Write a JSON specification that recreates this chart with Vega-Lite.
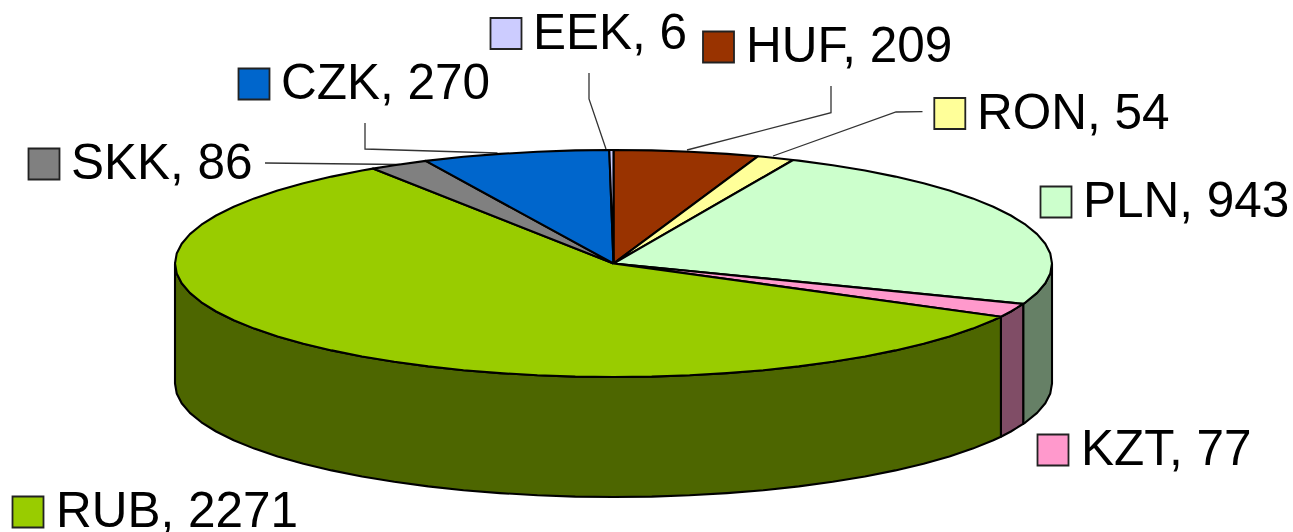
{"$schema":"https://vega.github.io/schema/vega-lite/v6.json","width":1293,"height":532,"padding":0,"autosize":"none","background":"white","view":{"stroke":null},
"datasets":{
"sides":[
{"slice":"PLN side","i":0,"x":1052,"y":263.5},{"slice":"PLN side","i":1,"x":1050.3,"y":273.4},{"slice":"PLN side","i":2,"x":1045.3,"y":283.2},{"slice":"PLN side","i":3,"x":1037.1,"y":292.9},{"slice":"PLN side","i":4,"x":1025.6,"y":302.3},{"slice":"PLN side","i":5,"x":1023.2,"y":303.9},{"slice":"PLN side","i":6,"x":1023.2,"y":423.9},{"slice":"PLN side","i":7,"x":1025.6,"y":422.3},{"slice":"PLN side","i":8,"x":1037.1,"y":412.9},{"slice":"PLN side","i":9,"x":1045.3,"y":403.2},{"slice":"PLN side","i":10,"x":1050.3,"y":393.4},{"slice":"PLN side","i":11,"x":1052,"y":383.5},{"slice":"PLN side","i":12,"x":1052,"y":263.5},
{"slice":"KZT side","i":0,"x":1023.2,"y":303.9},{"slice":"KZT side","i":1,"x":1010.9,"y":311.5},{"slice":"KZT side","i":2,"x":1000.9,"y":316.7},{"slice":"KZT side","i":3,"x":1000.9,"y":436.7},{"slice":"KZT side","i":4,"x":1010.9,"y":431.5},{"slice":"KZT side","i":5,"x":1023.2,"y":423.9},{"slice":"KZT side","i":6,"x":1023.2,"y":303.9},
{"slice":"RUB side","i":0,"x":1000.9,"y":316.7},{"slice":"RUB side","i":1,"x":993.3,"y":320.25},{"slice":"RUB side","i":2,"x":972.7,"y":328.6},{"slice":"RUB side","i":3,"x":949.4,"y":336.5},{"slice":"RUB side","i":4,"x":923.6,"y":343.8},{"slice":"RUB side","i":5,"x":895.4,"y":350.4},{"slice":"RUB side","i":6,"x":865,"y":356.5},{"slice":"RUB side","i":7,"x":832.75,"y":361.8},{"slice":"RUB side","i":8,"x":798.8,"y":366.4},{"slice":"RUB side","i":9,"x":763.5,"y":370.2},{"slice":"RUB side","i":10,"x":727,"y":373.1},{"slice":"RUB side","i":11,"x":689.6,"y":375.3},{"slice":"RUB side","i":12,"x":651.7,"y":376.6},{"slice":"RUB side","i":13,"x":613.5,"y":377},{"slice":"RUB side","i":14,"x":575.3,"y":376.6},{"slice":"RUB side","i":15,"x":537.4,"y":375.3},{"slice":"RUB side","i":16,"x":500,"y":373.1},{"slice":"RUB side","i":17,"x":463.5,"y":370.2},{"slice":"RUB side","i":18,"x":428.2,"y":366.4},{"slice":"RUB side","i":19,"x":394.25,"y":361.8},{"slice":"RUB side","i":20,"x":362,"y":356.5},{"slice":"RUB side","i":21,"x":331.6,"y":350.4},{"slice":"RUB side","i":22,"x":303.4,"y":343.8},{"slice":"RUB side","i":23,"x":277.6,"y":336.5},{"slice":"RUB side","i":24,"x":254.3,"y":328.6},{"slice":"RUB side","i":25,"x":233.7,"y":320.25},{"slice":"RUB side","i":26,"x":216.1,"y":311.5},{"slice":"RUB side","i":27,"x":201.4,"y":302.3},{"slice":"RUB side","i":28,"x":189.9,"y":292.9},{"slice":"RUB side","i":29,"x":181.7,"y":283.2},{"slice":"RUB side","i":30,"x":176.7,"y":273.4},{"slice":"RUB side","i":31,"x":175,"y":263.5},
{"slice":"RUB side","i":32,"x":175,"y":383.5},{"slice":"RUB side","i":33,"x":176.7,"y":393.4},{"slice":"RUB side","i":34,"x":181.7,"y":403.2},{"slice":"RUB side","i":35,"x":189.9,"y":412.9},{"slice":"RUB side","i":36,"x":201.4,"y":422.3},{"slice":"RUB side","i":37,"x":216.1,"y":431.5},{"slice":"RUB side","i":38,"x":233.7,"y":440.25},{"slice":"RUB side","i":39,"x":254.3,"y":448.6},{"slice":"RUB side","i":40,"x":277.6,"y":456.5},{"slice":"RUB side","i":41,"x":303.4,"y":463.8},{"slice":"RUB side","i":42,"x":331.6,"y":470.4},{"slice":"RUB side","i":43,"x":362,"y":476.5},{"slice":"RUB side","i":44,"x":394.25,"y":481.8},{"slice":"RUB side","i":45,"x":428.2,"y":486.4},{"slice":"RUB side","i":46,"x":463.5,"y":490.2},{"slice":"RUB side","i":47,"x":500,"y":493.1},{"slice":"RUB side","i":48,"x":537.4,"y":495.3},{"slice":"RUB side","i":49,"x":575.3,"y":496.6},{"slice":"RUB side","i":50,"x":613.5,"y":497},{"slice":"RUB side","i":51,"x":651.7,"y":496.6},{"slice":"RUB side","i":52,"x":689.6,"y":495.3},{"slice":"RUB side","i":53,"x":727,"y":493.1},{"slice":"RUB side","i":54,"x":763.5,"y":490.2},{"slice":"RUB side","i":55,"x":798.8,"y":486.4},{"slice":"RUB side","i":56,"x":832.75,"y":481.8},{"slice":"RUB side","i":57,"x":865,"y":476.5},{"slice":"RUB side","i":58,"x":895.4,"y":470.4},{"slice":"RUB side","i":59,"x":923.6,"y":463.8},{"slice":"RUB side","i":60,"x":949.4,"y":456.5},{"slice":"RUB side","i":61,"x":972.7,"y":448.6},{"slice":"RUB side","i":62,"x":993.3,"y":440.25},{"slice":"RUB side","i":63,"x":1000.9,"y":436.7},{"slice":"RUB side","i":64,"x":1000.9,"y":316.7}
],
"tops":[
{"slice":"HUF","i":0,"x":613.5,"y":263.5},{"slice":"HUF","i":1,"x":613.5,"y":150},{"slice":"HUF","i":2,"x":651.7,"y":150.4},{"slice":"HUF","i":3,"x":689.6,"y":151.7},{"slice":"HUF","i":4,"x":727,"y":153.9},{"slice":"HUF","i":5,"x":757.8,"y":156.3},{"slice":"HUF","i":6,"x":613.5,"y":263.5},
{"slice":"RON","i":0,"x":613.5,"y":263.5},{"slice":"RON","i":1,"x":757.8,"y":156.3},{"slice":"RON","i":2,"x":763.5,"y":156.8},{"slice":"RON","i":3,"x":793.1,"y":160},{"slice":"RON","i":4,"x":613.5,"y":263.5},
{"slice":"PLN","i":0,"x":613.5,"y":263.5},{"slice":"PLN","i":1,"x":793.1,"y":160},{"slice":"PLN","i":2,"x":798.8,"y":160.6},{"slice":"PLN","i":3,"x":832.75,"y":165.2},{"slice":"PLN","i":4,"x":865,"y":170.5},{"slice":"PLN","i":5,"x":895.4,"y":176.6},{"slice":"PLN","i":6,"x":923.6,"y":183.2},{"slice":"PLN","i":7,"x":949.4,"y":190.5},{"slice":"PLN","i":8,"x":972.7,"y":198.4},{"slice":"PLN","i":9,"x":993.3,"y":206.75},{"slice":"PLN","i":10,"x":1010.9,"y":215.5},{"slice":"PLN","i":11,"x":1025.6,"y":224.7},{"slice":"PLN","i":12,"x":1037.1,"y":234.1},{"slice":"PLN","i":13,"x":1045.3,"y":243.8},{"slice":"PLN","i":14,"x":1050.3,"y":253.6},{"slice":"PLN","i":15,"x":1052,"y":263.5},{"slice":"PLN","i":16,"x":1050.3,"y":273.4},{"slice":"PLN","i":17,"x":1045.3,"y":283.2},{"slice":"PLN","i":18,"x":1037.1,"y":292.9},{"slice":"PLN","i":19,"x":1025.6,"y":302.3},{"slice":"PLN","i":20,"x":1023.2,"y":303.9},{"slice":"PLN","i":21,"x":613.5,"y":263.5},
{"slice":"KZT","i":0,"x":613.5,"y":263.5},{"slice":"KZT","i":1,"x":1023.2,"y":303.9},{"slice":"KZT","i":2,"x":1010.9,"y":311.5},{"slice":"KZT","i":3,"x":1000.9,"y":316.7},{"slice":"KZT","i":4,"x":613.5,"y":263.5},
{"slice":"RUB","i":0,"x":613.5,"y":263.5},{"slice":"RUB","i":1,"x":1000.9,"y":316.7},{"slice":"RUB","i":2,"x":993.3,"y":320.25},{"slice":"RUB","i":3,"x":972.7,"y":328.6},{"slice":"RUB","i":4,"x":949.4,"y":336.5},{"slice":"RUB","i":5,"x":923.6,"y":343.8},{"slice":"RUB","i":6,"x":895.4,"y":350.4},{"slice":"RUB","i":7,"x":865,"y":356.5},{"slice":"RUB","i":8,"x":832.75,"y":361.8},{"slice":"RUB","i":9,"x":798.8,"y":366.4},{"slice":"RUB","i":10,"x":763.5,"y":370.2},{"slice":"RUB","i":11,"x":727,"y":373.1},{"slice":"RUB","i":12,"x":689.6,"y":375.3},{"slice":"RUB","i":13,"x":651.7,"y":376.6},{"slice":"RUB","i":14,"x":613.5,"y":377},{"slice":"RUB","i":15,"x":575.3,"y":376.6},{"slice":"RUB","i":16,"x":537.4,"y":375.3},{"slice":"RUB","i":17,"x":500,"y":373.1},{"slice":"RUB","i":18,"x":463.5,"y":370.2},{"slice":"RUB","i":19,"x":428.2,"y":366.4},{"slice":"RUB","i":20,"x":394.25,"y":361.8},{"slice":"RUB","i":21,"x":362,"y":356.5},{"slice":"RUB","i":22,"x":331.6,"y":350.4},{"slice":"RUB","i":23,"x":303.4,"y":343.8},{"slice":"RUB","i":24,"x":277.6,"y":336.5},{"slice":"RUB","i":25,"x":254.3,"y":328.6},{"slice":"RUB","i":26,"x":233.7,"y":320.25},{"slice":"RUB","i":27,"x":216.1,"y":311.5},{"slice":"RUB","i":28,"x":201.4,"y":302.3},{"slice":"RUB","i":29,"x":189.9,"y":292.9},{"slice":"RUB","i":30,"x":181.7,"y":283.2},{"slice":"RUB","i":31,"x":176.7,"y":273.4},{"slice":"RUB","i":32,"x":175,"y":263.5},{"slice":"RUB","i":33,"x":176.7,"y":253.6},{"slice":"RUB","i":34,"x":181.7,"y":243.8},{"slice":"RUB","i":35,"x":189.9,"y":234.1},{"slice":"RUB","i":36,"x":201.4,"y":224.7},{"slice":"RUB","i":37,"x":216.1,"y":215.5},{"slice":"RUB","i":38,"x":233.7,"y":206.75},{"slice":"RUB","i":39,"x":254.3,"y":198.4},{"slice":"RUB","i":40,"x":277.6,"y":190.5},{"slice":"RUB","i":41,"x":303.4,"y":183.2},{"slice":"RUB","i":42,"x":331.6,"y":176.6},{"slice":"RUB","i":43,"x":362,"y":170.5},{"slice":"RUB","i":44,"x":372.9,"y":168.6},{"slice":"RUB","i":45,"x":613.5,"y":263.5},
{"slice":"SKK","i":0,"x":613.5,"y":263.5},{"slice":"SKK","i":1,"x":372.9,"y":168.6},{"slice":"SKK","i":2,"x":394.25,"y":165.2},{"slice":"SKK","i":3,"x":425.7,"y":160.9},{"slice":"SKK","i":4,"x":613.5,"y":263.5},
{"slice":"CZK","i":0,"x":613.5,"y":263.5},{"slice":"CZK","i":1,"x":425.7,"y":160.9},{"slice":"CZK","i":2,"x":463.5,"y":156.8},{"slice":"CZK","i":3,"x":500,"y":153.9},{"slice":"CZK","i":4,"x":537.4,"y":151.7},{"slice":"CZK","i":5,"x":575.3,"y":150.4},{"slice":"CZK","i":6,"x":609.3,"y":150},{"slice":"CZK","i":7,"x":613.5,"y":263.5},
{"slice":"EEK","i":0,"x":613.5,"y":263.5},{"slice":"EEK","i":1,"x":609.3,"y":150},{"slice":"EEK","i":2,"x":613.5,"y":150},{"slice":"EEK","i":3,"x":613.5,"y":263.5}
],
"leaders":[
{"slice":"EEK","i":0,"x":589,"y":73},{"slice":"EEK","i":1,"x":589,"y":99},{"slice":"EEK","i":2,"x":606,"y":149},
{"slice":"CZK","i":0,"x":365,"y":123},{"slice":"CZK","i":1,"x":365,"y":149},{"slice":"CZK","i":2,"x":497.5,"y":153},
{"slice":"SKK","i":0,"x":265,"y":163},{"slice":"SKK","i":1,"x":400,"y":164.5},
{"slice":"HUF","i":0,"x":831,"y":86},{"slice":"HUF","i":1,"x":831,"y":112.7},{"slice":"HUF","i":2,"x":687,"y":150},
{"slice":"RON","i":0,"x":922.5,"y":111.7},{"slice":"RON","i":1,"x":896,"y":112},{"slice":"RON","i":2,"x":773,"y":156}
],
"labels":[
{"slice":"EEK","value":6,"label":"EEK, 6","sx":506,"sy":33.5,"tx":533,"ty":49},
{"slice":"CZK","value":270,"label":"CZK, 270","sx":254,"sy":84,"tx":281,"ty":99},
{"slice":"SKK","value":86,"label":"SKK, 86","sx":44,"sy":164,"tx":71,"ty":179},
{"slice":"HUF","value":209,"label":"HUF, 209","sx":718.5,"sy":47,"tx":746,"ty":62},
{"slice":"RON","value":54,"label":"RON, 54","sx":949.8,"sy":113.5,"tx":977,"ty":129},
{"slice":"PLN","value":943,"label":"PLN, 943","sx":1056,"sy":202,"tx":1083,"ty":217},
{"slice":"KZT","value":77,"label":"KZT, 77","sx":1053,"sy":450,"tx":1081,"ty":465},
{"slice":"RUB","value":2271,"label":"RUB, 2271","sx":28,"sy":512,"tx":56,"ty":527}
]},
"encoding":{},
"layer":[
{"data":{"name":"sides"},"mark":{"type":"line","stroke":"black","strokeWidth":2.1,"strokeJoin":"round","interpolate":"linear"},
"encoding":{"x":{"field":"x","type":"quantitative","axis":null,"scale":{"domain":[0,1293],"nice":false,"zero":false}},"y":{"field":"y","type":"quantitative","axis":null,"scale":{"domain":[532,0],"nice":false,"zero":false}},"order":{"field":"i","type":"quantitative"},"detail":{"field":"slice"},"fill":{"field":"slice","type":"nominal","legend":null,"scale":{"domain":["RUB","PLN","KZT","RON","HUF","EEK","CZK","SKK","RUB side","PLN side","KZT side"],"range":["#99cc00","#ccffcc","#ff99cc","#ffff99","#993300","#ccccff","#0066cc","#808080","#4d6600","#668066","#804d66"]}}}},
{"data":{"name":"leaders"},"mark":{"type":"line","stroke":"#333333","strokeWidth":1.3,"interpolate":"linear"},
"encoding":{"x":{"field":"x","type":"quantitative"},"y":{"field":"y","type":"quantitative"},"order":{"field":"i","type":"quantitative"},"detail":{"field":"slice"}}},
{"data":{"name":"tops"},"mark":{"type":"line","stroke":"black","strokeWidth":2.1,"strokeJoin":"round","interpolate":"linear"},
"encoding":{"x":{"field":"x","type":"quantitative"},"y":{"field":"y","type":"quantitative"},"order":{"field":"i","type":"quantitative"},"detail":{"field":"slice"},"fill":{"field":"slice","type":"nominal","legend":null}}},
{"data":{"name":"labels"},"mark":{"type":"point","shape":"square","filled":true,"size":961,"stroke":"#222222","strokeWidth":1.8,"opacity":1},
"encoding":{"x":{"field":"sx","type":"quantitative"},"y":{"field":"sy","type":"quantitative"},"fill":{"field":"slice","type":"nominal","legend":null}}},
{"data":{"name":"labels"},"mark":{"type":"text","align":"left","baseline":"alphabetic","font":"Liberation Sans","fontSize":49.5,"fill":"black"},
"encoding":{"x":{"field":"tx","type":"quantitative"},"y":{"field":"ty","type":"quantitative"},"text":{"field":"label"}}}
]}
